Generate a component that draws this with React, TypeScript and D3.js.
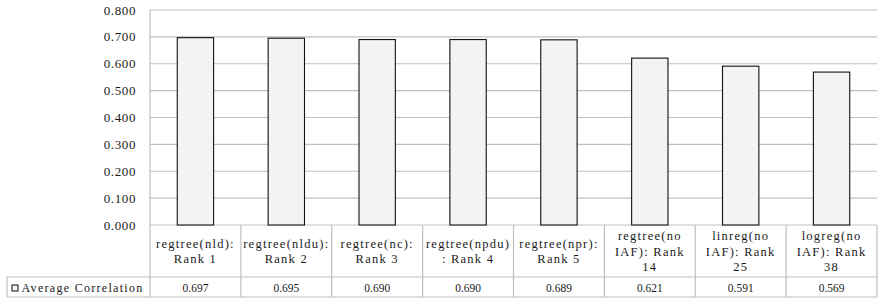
import React from "react";
import * as d3 from "d3";

const categories: string[][] = [
  ["regtree(nld):", "Rank 1"],
  ["regtree(nldu):", "Rank 2"],
  ["regtree(nc):", "Rank 3"],
  ["regtree(npdu)", ": Rank 4"],
  ["regtree(npr):", "Rank 5"],
  ["regtree(no", "IAF): Rank", "14"],
  ["linreg(no", "IAF): Rank", "25"],
  ["logreg(no", "IAF): Rank", "38"],
];
const values: number[] = [0.697, 0.695, 0.69, 0.69, 0.689, 0.621, 0.591, 0.569];
const yTicks: number[] = [0, 0.1, 0.2, 0.3, 0.4, 0.5, 0.6, 0.7, 0.8];
const seriesName = "Average Correlation";

const W = 878;
const H = 301;
const left = 150;
const right = 877;
const top = 10;
const bottom = 225;
const headerBottom = 277;
const tableBottom = 297;
const tableLeft = 7;

const FONT = '"Liberation Serif", "DejaVu Serif", "Noto Serif", "Times New Roman", Times, serif';
const GRID = "#bfbfbf";
const TEXT = "#1a1a1a";

export default function App() {
  const x = d3
    .scaleBand<number>()
    .domain(d3.range(categories.length))
    .range([left, right])
    .paddingInner(0)
    .paddingOuter(0);
  const y = d3.scaleLinear().domain([0, 0.8]).range([bottom, top]);
  const bw = x.bandwidth();
  const barW = bw * 0.4;
  const lh = 15.5;
  const fmt = d3.format(".3f");

  return (
    <svg
      width={W}
      height={H}
      style={{ position: "absolute", left: 0, top: 0, background: "#fff", fontFamily: FONT }}
    >
      {yTicks.map((t) => (
        <line
          key={"g" + t}
          x1={left}
          x2={right}
          y1={y(t)}
          y2={y(t)}
          stroke={GRID}
          strokeWidth={1.2}
        />
      ))}
      <line x1={left} x2={left} y1={y(0.8)} y2={tableBottom} stroke={GRID} strokeWidth={1.2} />
      {yTicks.map((t) => (
        <text
          key={"yl" + t}
          x={136}
          y={y(t) + 4.5}
          textAnchor="end"
          style={{ fontFamily: FONT, fontSize: 13, letterSpacing: 0.6 }}
          fill={TEXT}
        >
          {fmt(t)}
        </text>
      ))}
      {values.map((v, i) => (
        <rect
          key={"b" + i}
          x={(x(i) as number) + bw / 2 - barW / 2}
          y={y(v)}
          width={barW}
          height={y(0) - y(v)}
          fill="#f3f3f3"
          stroke="#111"
          strokeWidth={1.1}
        />
      ))}
      {categories.map((_, i) => (
        <line
          key={"v" + i}
          x1={(x(i) as number) + bw}
          x2={(x(i) as number) + bw}
          y1={bottom}
          y2={tableBottom}
          stroke={GRID}
          strokeWidth={1.2}
        />
      ))}
      <line x1={tableLeft} x2={right} y1={headerBottom} y2={headerBottom} stroke={GRID} strokeWidth={1.2} />
      <line x1={tableLeft} x2={right} y1={tableBottom} y2={tableBottom} stroke={GRID} strokeWidth={1.2} />
      <line x1={tableLeft} x2={tableLeft} y1={headerBottom} y2={tableBottom} stroke={GRID} strokeWidth={1.2} />
      {categories.map((lines, i) => {
        const cx = (x(i) as number) + bw / 2;
        const mid = (bottom + headerBottom) / 2;
        const first = mid - ((lines.length - 1) * lh) / 2;
        return (
          <text
            key={"c" + i}
            textAnchor="middle"
            style={{ fontFamily: FONT, fontSize: 12.5, letterSpacing: 1.25 }}
            fill={TEXT}
          >
            {lines.map((ln, j) => (
              <tspan key={j} x={cx} y={first + j * lh + 4.5}>
                {ln}
              </tspan>
            ))}
          </text>
        );
      })}
      {values.map((v, i) => (
        <text
          key={"val" + i}
          x={(x(i) as number) + bw / 2}
          y={292}
          textAnchor="middle"
          style={{ fontFamily: FONT, fontSize: 11.5 }}
          fill={TEXT}
        >
          {fmt(v)}
        </text>
      ))}
      <rect x={12} y={285} width={6} height={6} fill="#f3f3f3" stroke="#111" strokeWidth={1} />
      <text
        x={21.5}
        y={292}
        style={{ fontFamily: FONT, fontSize: 12, letterSpacing: 1.3 }}
        fill={TEXT}
      >
        {seriesName}
      </text>
    </svg>
  );
}
